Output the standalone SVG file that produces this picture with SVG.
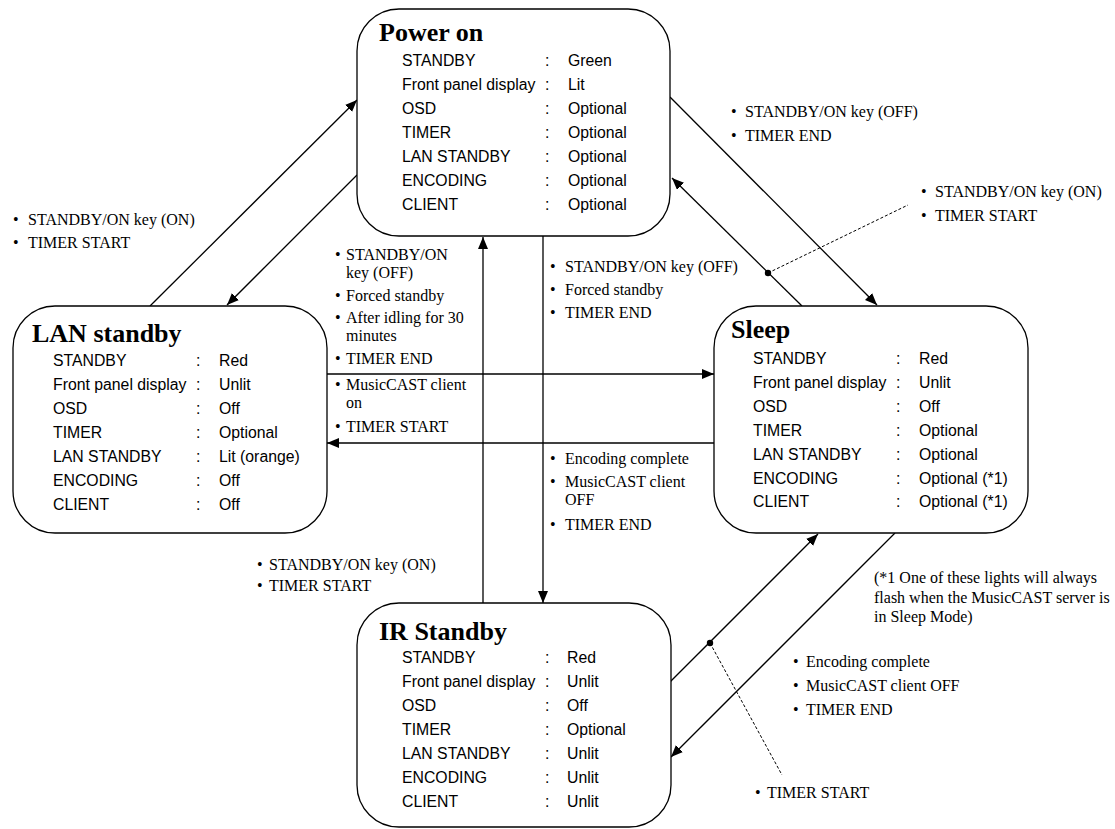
<svg xmlns="http://www.w3.org/2000/svg" width="1115" height="829" viewBox="0 0 1115 829">
<style>
.box{fill:#fff;stroke:#000;stroke-width:1.3}
.ttl{font-family:"Liberation Serif","Times New Roman",serif;font-weight:bold;font-size:26px;fill:#000}
.row{font-family:"Liberation Sans",Arial,sans-serif;font-size:15.8px;fill:#000}
.lbl{font-family:"Liberation Serif","Times New Roman",serif;font-size:16px;fill:#000}
.ln{stroke:#000;stroke-width:1.3;fill:none}
.dot{stroke:#000;stroke-width:1;stroke-dasharray:3 2;fill:none}
</style>
<defs>
<marker id="ah" viewBox="0 0 12 10" refX="12" refY="5" markerWidth="12" markerHeight="10" markerUnits="userSpaceOnUse" orient="auto">
<path d="M0,0 L12,5 L0,10 z" fill="#000"/>
</marker>
</defs>
<rect width="1115" height="829" fill="#fff"/>

<g id="connectors">
<line class="ln" x1="150" y1="306" x2="357" y2="100" marker-end="url(#ah)"/>
<line class="ln" x1="357" y1="175" x2="227" y2="305" marker-end="url(#ah)"/>
<line class="ln" x1="670" y1="97" x2="877" y2="305" marker-end="url(#ah)"/>
<line class="ln" x1="802" y1="306" x2="672" y2="178" marker-end="url(#ah)"/>
<line class="ln" x1="543" y1="236" x2="543" y2="603" marker-end="url(#ah)"/>
<line class="ln" x1="483" y1="603" x2="483" y2="237" marker-end="url(#ah)"/>
<line class="ln" x1="327" y1="374" x2="714" y2="374" marker-end="url(#ah)"/>
<line class="ln" x1="714" y1="443" x2="327" y2="443" marker-end="url(#ah)"/>
<line class="ln" x1="670" y1="682" x2="818" y2="534" marker-end="url(#ah)"/>
<line class="ln" x1="895" y1="533" x2="671" y2="757" marker-end="url(#ah)"/>
<line class="dot" x1="768" y1="273" x2="908" y2="205"/>
<circle cx="768" cy="273" r="3.2" fill="#000"/>
<line class="dot" x1="710" y1="643" x2="782" y2="775"/>
<circle cx="710" cy="643" r="3.2" fill="#000"/>
</g>

<g id="labels" class="lbl">
<text x="13" y="225">•</text><text x="28" y="225">STANDBY/ON key (ON)</text>
<text x="13" y="248">•</text><text x="28" y="248">TIMER START</text>

<text x="731" y="117">•</text><text x="745" y="117">STANDBY/ON key (OFF)</text>
<text x="731" y="141">•</text><text x="745" y="141">TIMER END</text>

<text x="921" y="197">•</text><text x="935" y="197">STANDBY/ON key (ON)</text>
<text x="921" y="221">•</text><text x="935" y="221">TIMER START</text>

<text x="335" y="260">•</text><text x="346" y="260">STANDBY/ON</text>
<text x="346" y="278">key (OFF)</text>
<text x="335" y="301">•</text><text x="346" y="301">Forced standby</text>
<text x="335" y="323">•</text><text x="346" y="323">After idling for 30</text>
<text x="346" y="341">minutes</text>
<text x="335" y="364">•</text><text x="346" y="364">TIMER END</text>
<text x="335" y="390">•</text><text x="346" y="390">MusicCAST client</text>
<text x="346" y="408">on</text>
<text x="335" y="432">•</text><text x="346" y="432">TIMER START</text>

<text x="550" y="272">•</text><text x="565" y="272">STANDBY/ON key (OFF)</text>
<text x="550" y="295">•</text><text x="565" y="295">Forced standby</text>
<text x="550" y="318">•</text><text x="565" y="318">TIMER END</text>
<text x="550" y="464">•</text><text x="565" y="464">Encoding complete</text>
<text x="550" y="487">•</text><text x="565" y="487">MusicCAST client</text>
<text x="565" y="505">OFF</text>
<text x="550" y="530">•</text><text x="565" y="530">TIMER END</text>

<text x="257" y="570">•</text><text x="269" y="570">STANDBY/ON key (ON)</text>
<text x="257" y="591">•</text><text x="269" y="591">TIMER START</text>

<text x="874" y="583">(*1 One of these lights will always</text>
<text x="874" y="603">flash when the MusicCAST server is</text>
<text x="874" y="622">in Sleep Mode)</text>

<text x="793" y="667">•</text><text x="806" y="667">Encoding complete</text>
<text x="793" y="691">•</text><text x="806" y="691">MusicCAST client OFF</text>
<text x="793" y="715">•</text><text x="806" y="715">TIMER END</text>

<text x="755" y="798">•</text><text x="767" y="798">TIMER START</text>
</g>

<g id="power-on">
<rect class="box" x="357" y="9" width="313" height="227" rx="42" ry="42"/>
<text class="ttl" x="379" y="41">Power on</text>
<g class="row">
<text x="402" y="66">STANDBY</text><text x="545" y="66">:</text><text x="568" y="66">Green</text>
<text x="402" y="90">Front panel display</text><text x="545" y="90">:</text><text x="568" y="90">Lit</text>
<text x="402" y="114">OSD</text><text x="545" y="114">:</text><text x="568" y="114">Optional</text>
<text x="402" y="138">TIMER</text><text x="545" y="138">:</text><text x="568" y="138">Optional</text>
<text x="402" y="162">LAN STANDBY</text><text x="545" y="162">:</text><text x="568" y="162">Optional</text>
<text x="402" y="186">ENCODING</text><text x="545" y="186">:</text><text x="568" y="186">Optional</text>
<text x="402" y="210">CLIENT</text><text x="545" y="210">:</text><text x="568" y="210">Optional</text>
</g>
</g>

<g id="lan-standby">
<rect class="box" x="13" y="306" width="314" height="227" rx="42" ry="42"/>
<text class="ttl" x="32" y="342">LAN standby</text>
<g class="row">
<text x="53" y="366">STANDBY</text><text x="196" y="366">:</text><text x="219" y="366">Red</text>
<text x="53" y="390">Front panel display</text><text x="196" y="390">:</text><text x="219" y="390">Unlit</text>
<text x="53" y="414">OSD</text><text x="196" y="414">:</text><text x="219" y="414">Off</text>
<text x="53" y="438">TIMER</text><text x="196" y="438">:</text><text x="219" y="438">Optional</text>
<text x="53" y="462">LAN STANDBY</text><text x="196" y="462">:</text><text x="219" y="462">Lit (orange)</text>
<text x="53" y="486">ENCODING</text><text x="196" y="486">:</text><text x="219" y="486">Off</text>
<text x="53" y="510">CLIENT</text><text x="196" y="510">:</text><text x="219" y="510">Off</text>
</g>
</g>

<g id="sleep">
<rect class="box" x="714" y="306" width="314" height="227" rx="42" ry="42"/>
<text class="ttl" x="731" y="338">Sleep</text>
<g class="row">
<text x="753" y="364">STANDBY</text><text x="896" y="364">:</text><text x="919" y="364">Red</text>
<text x="753" y="388">Front panel display</text><text x="896" y="388">:</text><text x="919" y="388">Unlit</text>
<text x="753" y="412">OSD</text><text x="896" y="412">:</text><text x="919" y="412">Off</text>
<text x="753" y="436">TIMER</text><text x="896" y="436">:</text><text x="919" y="436">Optional</text>
<text x="753" y="460">LAN STANDBY</text><text x="896" y="460">:</text><text x="919" y="460">Optional</text>
<text x="753" y="484">ENCODING</text><text x="896" y="484">:</text><text x="919" y="484">Optional (*1)</text>
<text x="753" y="507">CLIENT</text><text x="896" y="507">:</text><text x="919" y="507">Optional (*1)</text>
</g>
</g>

<g id="ir-standby">
<rect class="box" x="357" y="603" width="314" height="224" rx="42" ry="42"/>
<text class="ttl" x="379" y="640">IR Standby</text>
<g class="row">
<text x="402" y="663">STANDBY</text><text x="545" y="663">:</text><text x="567" y="663">Red</text>
<text x="402" y="687">Front panel display</text><text x="545" y="687">:</text><text x="567" y="687">Unlit</text>
<text x="402" y="711">OSD</text><text x="545" y="711">:</text><text x="567" y="711">Off</text>
<text x="402" y="735">TIMER</text><text x="545" y="735">:</text><text x="567" y="735">Optional</text>
<text x="402" y="759">LAN STANDBY</text><text x="545" y="759">:</text><text x="567" y="759">Unlit</text>
<text x="402" y="783">ENCODING</text><text x="545" y="783">:</text><text x="567" y="783">Unlit</text>
<text x="402" y="807">CLIENT</text><text x="545" y="807">:</text><text x="567" y="807">Unlit</text>
</g>
</g>
</svg>
